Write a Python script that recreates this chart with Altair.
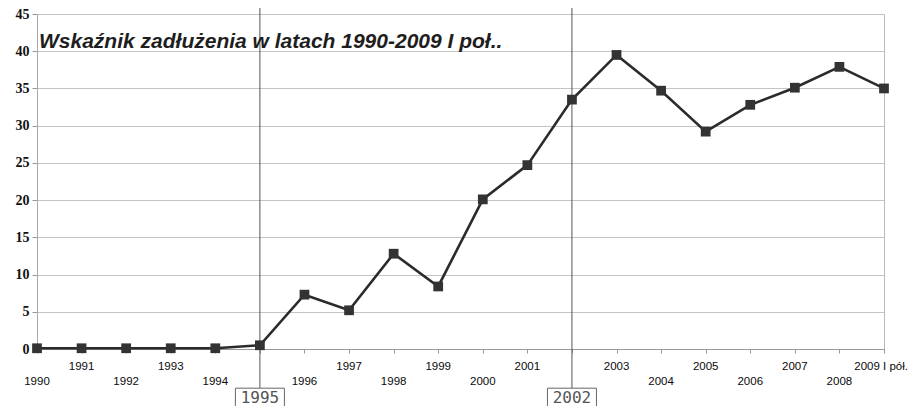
import altair as alt
import pandas as pd

TITLE = "Wskaźnik zadłużenia w latach 1990-2009 I poł.."
years = ["1990", "1991", "1992", "1993", "1994", "1995", "1996", "1997", "1998", "1999",
         "2000", "2001", "2002", "2003", "2004", "2005", "2006", "2007", "2008", "2009 I pół."]
values = [0.1, 0.1, 0.1, 0.1, 0.1, 0.5, 7.3, 5.2, 12.8, 8.4,
          20.1, 24.7, 33.5, 39.5, 34.7, 29.2, 32.8, 35.1, 37.9, 35.0]
highlight_years = ["1995", "2002"]
y_ticks = [0, 5, 10, 15, 20, 25, 30, 35, 40, 45]

df = pd.DataFrame({"year": years, "value": values, "idx": list(range(len(years)))})
df["hl"] = df["year"].isin(highlight_years)
last_label = years[-1]

xscale = alt.Scale(domain=years, type="point", padding=0)
X = alt.X("year:N", scale=xscale, sort=years,
          axis=alt.Axis(labels=False, ticks=True, tickSize=4, tickColor="#999999",
                        domainColor="#999999", grid=False, title=None))
Y = alt.Y("value:Q", scale=alt.Scale(domain=[0, 45], nice=False),
          axis=alt.Axis(values=y_ticks, labelFont="Liberation Serif", labelFontWeight="bold",
                        labelFontSize=14, labelColor="#111111", tickSize=5, tickColor="#999999",
                        labelPadding=3, labelOverlap=False, labelFlush=False,
                        gridColor="#c4c4c4", domainColor="#aaaaaa", title=None))

base = alt.Chart(df)

rules = base.transform_filter("datum.hl").mark_rule(color="#555555", strokeWidth=1).encode(
    x=X, y=alt.value(-6), y2=alt.value(374))

line = base.mark_line(color="#2b2b2b", strokeWidth=2.6).encode(x=X, y=Y)
pts = base.mark_point(shape="square", filled=True, size=95, color="#333333", opacity=1).encode(
    x=X, y=Y)

lab_style = dict(font="Liberation Sans", fontSize=11.5, color="#0a0a0a", baseline="middle")
upper = base.transform_filter(
    f"datum.idx % 2 == 1 && !datum.hl && datum.year != '{last_label}'").mark_text(
    **lab_style).encode(x=X, y=alt.value(352.5), text="year:N")
lower = base.transform_filter("datum.idx % 2 == 0 && !datum.hl").mark_text(
    **lab_style).encode(x=X, y=alt.value(367.5), text="year:N")
last = base.transform_filter(f"datum.year == '{last_label}'").mark_text(
    align="right", dx=24, **lab_style).encode(x=X, y=alt.value(352.5), text="year:N")

box = base.transform_filter("datum.hl").mark_point(
    shape="M-1,-0.4L1,-0.4L1,0.4L-1,0.4Z", size=2401, filled=False, color="#666666",
    strokeWidth=1, opacity=1).encode(x=X, y=alt.value(384))
box_text = base.transform_filter("datum.hl").mark_text(
    font="DejaVu Sans Mono", fontSize=16, color="#555555", baseline="middle").encode(
    x=X, y=alt.value(384), text="year:N")

title = alt.Chart(pd.DataFrame({"t": [TITLE]})).mark_text(
    font="Liberation Sans", fontSize=21, fontWeight="bold", fontStyle="italic",
    color="#1e1e1e", align="left", baseline="alphabetic").encode(
    x=alt.value(2), y=alt.value(33.5), text="t:N")

chart = alt.layer(rules, line, pts, upper, lower, last, box, box_text, title).properties(
    width=847, height=335,
    autosize=alt.AutoSizeParams(type="none"),
    padding={"left": 29, "top": 6, "right": 24, "bottom": 57},
    background="white",
).configure_view(stroke="#b8b8b8")

chart.save("out.html", embed_options={"renderer": "svg", "actions": False})
